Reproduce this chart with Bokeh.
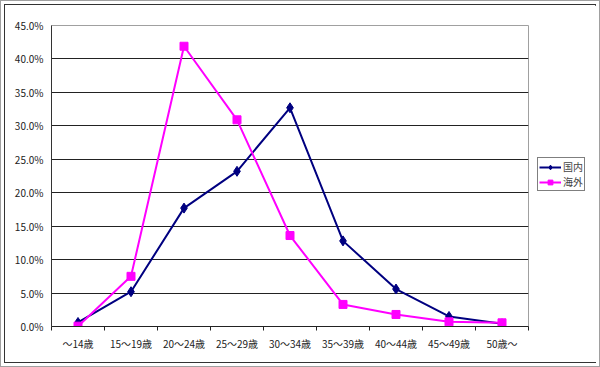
import numpy as np
from bokeh.plotting import figure
from bokeh.models import (Range1d, LinearAxis, FixedTicker, PrintfTickFormatter,
                          Legend, LegendItem)
from bokeh.embed import file_html
from bokeh.resources import INLINE

categories = ["～14歳", "15～19歳", "20～24歳", "25～29歳", "30～34歳",
              "35～39歳", "40～44歳", "45～49歳", "50歳～"]
domestic = [0.6, 5.2, 17.7, 23.2, 32.7, 12.8, 5.6, 1.5, 0.4]
overseas = [0.05, 7.5, 41.9, 30.9, 13.6, 3.3, 1.8, 0.7, 0.55]
series_names = ["国内", "海外"]
y_ticks = [0, 5, 10, 15, 20, 25, 30, 35, 40, 45]

FONT = "Noto Sans CJK JP"
n = len(categories)
xs = np.arange(n) + 0.5

p = figure(frame_width=477, frame_height=301, output_backend="svg",
           toolbar_location=None,
           x_range=Range1d(0, n), y_range=Range1d(0, 45),
           x_axis_location=None, y_axis_location=None,
           min_border_left=46, min_border_right=63, min_border_top=20,
           min_border_bottom=36)
p.styles = {"border": "1px solid #a0a0a0", "padding": "4px",
            "background-color": "white",
            "box-shadow": "inset 0 0 0 3px white, inset 0 0 0 4px #333333",
            "max-width": "600px", "overflow": "hidden"}
p.background_fill_color = "white"
p.border_fill_color = "white"
p.outline_line_color = "#a0a0a0"
p.outline_line_width = 1

# y axis
yax = LinearAxis(ticker=FixedTicker(ticks=y_ticks),
                 formatter=PrintfTickFormatter(format="%.1f%%"))
yax.major_tick_out = 0
yax.major_tick_in = 0
yax.minor_tick_out = 0
yax.minor_tick_in = 0
yax.axis_line_color = "#333333"
yax.major_label_standoff = 8
yax.major_label_text_font = FONT
yax.major_label_text_font_size = "10px"
yax.major_label_text_color = "#222222"
p.add_layout(yax, "left")

# x axis: ticks between categories (no labels)
bounds = list(range(n + 1))
xt = LinearAxis(ticker=FixedTicker(ticks=bounds))
xt.major_label_overrides = {b: "" for b in bounds}
xt.major_label_standoff = 0
xt.major_tick_out = 4
xt.major_tick_in = 0
xt.minor_tick_out = 0
xt.minor_tick_in = 0
xt.axis_line_color = "#222222"
xt.major_tick_line_color = "#222222"
p.add_layout(xt, "below")

# x axis: category labels at centres
xl = LinearAxis(ticker=FixedTicker(ticks=list(xs)))
xl.major_label_overrides = {float(x): c for x, c in zip(xs, categories)}
xl.axis_line_color = None
xl.major_tick_out = 0
xl.major_tick_in = 0
xl.minor_tick_out = 0
xl.minor_tick_in = 0
xl.major_label_standoff = 5
xl.major_label_text_font = FONT
xl.major_label_text_font_size = "10px"
xl.major_label_text_color = "#222222"
p.add_layout(xl, "below")

p.xgrid.visible = False
p.ygrid.ticker = FixedTicker(ticks=y_ticks[1:-1])
p.ygrid.grid_line_color = "#222222"
p.ygrid.grid_line_width = 1

navy = "#000080"
mag = "#FF00FF"
l1 = p.line(xs, domestic, line_color=navy, line_width=2)
m1 = p.scatter(xs, domestic, marker="diamond", size=10, fill_color=navy,
               line_color=navy)
l2 = p.line(xs, overseas, line_color=mag, line_width=2)
m2 = p.scatter(xs, overseas, marker="square", size=8, fill_color=mag,
               line_color=mag)

legend = Legend(items=[LegendItem(label=series_names[0], renderers=[l1, m1]),
                       LegendItem(label=series_names[1], renderers=[l2, m2])],
                location=(9, 135))
legend.label_text_font = FONT
legend.label_text_font_size = "10px"
legend.label_height = 12
legend.glyph_height = 12
legend.glyph_width = 22
legend.label_standoff = 2
legend.spacing = 0
legend.padding = 1
legend.margin = 0
legend.border_line_color = "black"
legend.border_line_width = 1
legend.background_fill_alpha = 1
p.add_layout(legend, "right")

open("out.html", "w").write(file_html(p, INLINE))
